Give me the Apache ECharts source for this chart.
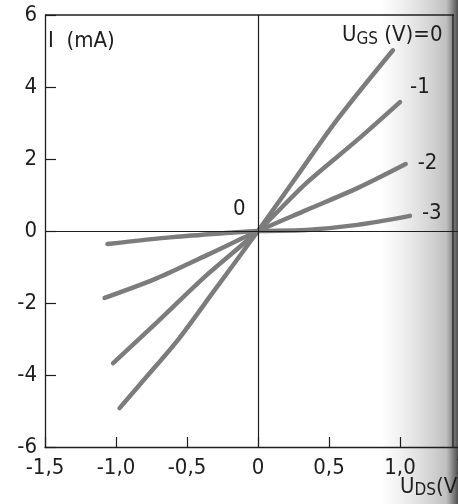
<!DOCTYPE html>
<html><head><meta charset="utf-8">
<script src="https://cdn.jsdelivr.net/npm/echarts@6/dist/echarts.min.js"></script>
<style>html,body{margin:0;padding:0;background:#fff}#c{width:458px;height:504px}</style>
</head><body><div id="c"></div>
<script>
// Data (U_DS in V, I in mA)
const ugs0 = [[-0.975,-4.92],[-0.80,-4.12],[-0.555,-2.98],[-0.32,-1.72],[0,0],[0.27,1.5],[0.555,3.08],[0.95,5.02]];
const ugs1 = [[-1.02,-3.67],[-0.71,-2.53],[-0.36,-1.22],[0,0],[0.34,1.33],[0.70,2.53],[1.0,3.58]];
const ugs2 = [[-1.08,-1.86],[-0.71,-1.31],[-0.36,-0.67],[0,0],[0.34,0.58],[0.70,1.19],[1.04,1.86]];
const ugs3 = [[-1.06,-0.36],[-0.60,-0.17],[-0.20,-0.05],[0,0],[0.34,0.03],[0.70,0.17],[1.07,0.42]];
const curveLabels = ['U{s|GS} (V)=0', '-1', '-2', '-3'];
const xTickLabels = {'-1.5':'-1,5','-1':'-1,0','-0.5':'-0,5','0':'0','0.5':'0,5','1':'1,0','1.5':'1,5'};
const yTickLabels = {'-6':'-6','-4':'-4','-2':'-2','0':'0','2':'2','4':'4','6':'6'};

const FONT = '"Liberation Sans Narrow","DejaVu Sans Condensed","Liberation Sans",sans-serif';
const ink = '#1e1e1e';
const lineCol = '#7c7c7c';

const chart = echarts.init(document.getElementById('c'), null, {renderer:'canvas'});
function curve(data, i, off){
  return {
    type:'line', data:data, smooth:0.3, symbol:'none', z:3,
    lineStyle:{color:lineCol, width:4.5, cap:'round'},
    endLabel:{show:i>0, formatter:curveLabels[i], distance:0, offset:off,
      color:ink, fontFamily:FONT, fontSize:22, align:'left', verticalAlign:'middle'}
  };
}
chart.setOption({
  animation:false,
  backgroundColor:'#fff',
  grid:{left:45, top:15, height:432, width:426, show:false, containLabel:false, outerBoundsMode:'none'},
  xAxis:{type:'value', min:-1.5, max:1.5, interval:0.5,
    axisLine:{show:true, onZero:false, lineStyle:{color:ink, width:1.3}},
    axisTick:{show:true, inside:true, length:10, lineStyle:{color:ink, width:1.2}},
    axisLabel:{color:ink, fontFamily:FONT, fontSize:22, margin:10,
      formatter:v=>xTickLabels[String(v)] ?? ''},
    splitLine:{show:false}},
  yAxis:{type:'value', min:-6, max:6, interval:2,
    axisLine:{show:true, onZero:false, lineStyle:{color:ink, width:1.3}},
    axisTick:{show:true, inside:true, length:11, lineStyle:{color:ink, width:1.2}},
    axisLabel:{color:ink, fontFamily:FONT, fontSize:22, margin:8,
      formatter:v=>yTickLabels[String(v)] ?? ''},
    splitLine:{show:false}},
  graphic:[
    {type:'rect', z:-10, silent:true, shape:{x:380, y:0, width:78, height:504},
      style:{fill:new echarts.graphic.LinearGradient(0,0,1,0,[
        {offset:0, color:'rgba(215,215,215,0)'},
        {offset:0.45, color:'rgba(205,205,205,0.55)'},
        {offset:0.85, color:'rgba(175,175,175,0.8)'},
        {offset:0.93, color:'rgba(120,120,120,0.9)'},
        {offset:1, color:'rgba(70,70,70,0.95)'}])}},
    {type:'line', z:5, silent:true, shape:{x1:45, y1:15, x2:454, y2:15}, style:{stroke:ink, lineWidth:1.3}},
    {type:'line', z:5, silent:true, shape:{x1:453, y1:15, x2:453, y2:447}, style:{stroke:ink, lineWidth:1.3}},
    {type:'text', z:5, left:48, top:30, style:{text:'I  (mA)', fill:ink, font:'22px '+FONT}},
    {type:'text', z:5, left:342, top:24, style:{text:'U{s|GS} (V)=0', fill:ink, font:'22px '+FONT,
      rich:{s:{fontSize:17, fontFamily:FONT, padding:[10,0,0,0], fill:ink}}}},
    {type:'text', z:5, left:233, top:198, style:{text:'0', fill:ink, font:'22px '+FONT}},
    {type:'text', z:5, left:400, top:476, style:{text:'U{s|DS}(V)', fill:ink, font:'22px '+FONT,
      rich:{s:{fontSize:17, fontFamily:FONT, padding:[8,0,0,0], fill:ink}}}}
  ],
  series:[
    {type:'line', data:[], z:1, markLine:{silent:true, symbol:'none', animation:false,
      lineStyle:{color:ink, width:1.2, type:'solid'}, label:{show:false},
      data:[{xAxis:0},{yAxis:0}]}},
    curve(ugs0,0,[0,0]),
    curve(ugs1,1,[10,-15]),
    curve(ugs2,2,[12,-1]),
    curve(ugs3,3,[12,-3])
  ]
});
</script></body></html>
